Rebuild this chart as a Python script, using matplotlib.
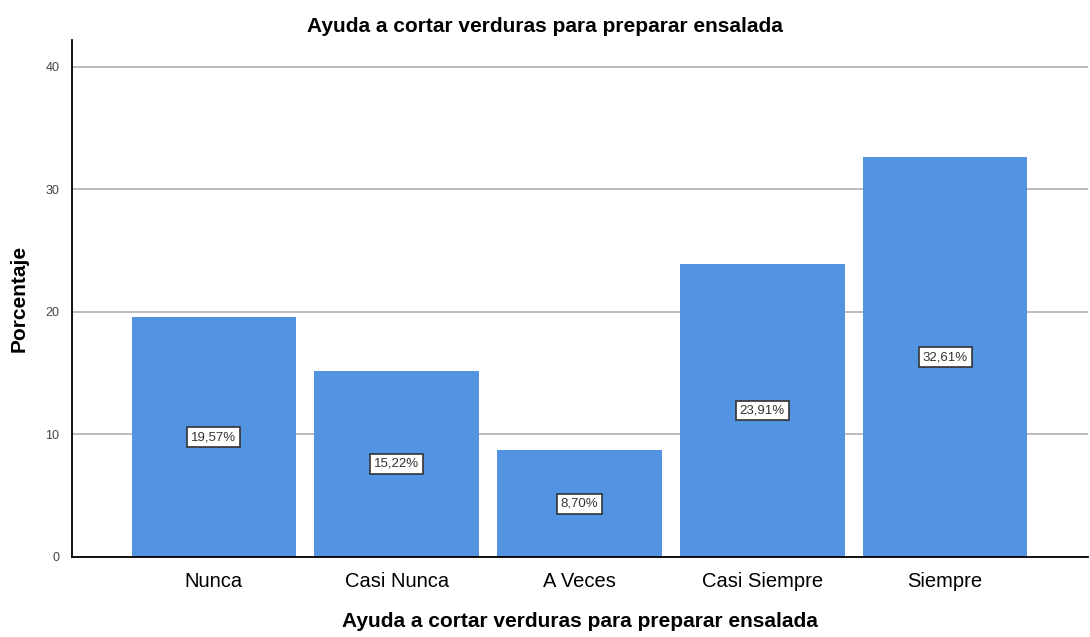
import numpy as np
import matplotlib.pyplot as plt

plt.rcParams['font.family'] = ['Liberation Sans', 'DejaVu Sans']

categorias = ['Nunca', 'Casi Nunca', 'A Veces', 'Casi Siempre', 'Siempre']
porcentajes = [19.57, 15.22, 8.70, 23.91, 32.61]
etiquetas = ['19,57%', '15,22%', '8,70%', '23,91%', '32,61%']
yticks = [0, 10, 20, 30, 40]

fig = plt.figure(figsize=(10.9, 6.37), dpi=100)
ax = fig.add_axes([0.066, 0.1256, 0.932, 0.8116])

x = np.arange(len(categorias))
ax.bar(x, porcentajes, width=0.9, color='#5294E2', zorder=2)

for xi, v, lab in zip(x, porcentajes, etiquetas):
    ax.text(xi, v / 2, lab, ha='center', va='center', fontsize=9.5, color='#333333', zorder=3,
            bbox=dict(boxstyle='square,pad=0.3', fc='white', ec='#333333', lw=1.2))

ax.set_xlim(-0.776, 4.78)
ax.set_ylim(0, 42.2)
ax.set_yticks(yticks)
ax.set_xticks(x)
ax.set_xticklabels(categorias, fontsize=14.5)
ax.tick_params(axis='y', length=0, labelsize=9, labelcolor='#444444', pad=9)
ax.tick_params(axis='x', length=0, pad=11)
ax.yaxis.grid(True, color='#b0b0b0', lw=1.2, zorder=1)
ax.set_axisbelow(True)
for s in ['top', 'right']:
    ax.spines[s].set_visible(False)
ax.spines['left'].set_linewidth(1.3)
ax.spines['bottom'].set_linewidth(1.3)

ax.set_ylabel('Porcentaje', fontsize=15, fontweight='bold', labelpad=12)
ax.set_xlabel('Ayuda a cortar verduras para preparar ensalada', fontsize=15, fontweight='bold', labelpad=15)
fig.text(0.5, 0.958, 'Ayuda a cortar verduras para preparar ensalada', fontsize=15, fontweight='bold',
         ha='center', va='center')

plt.savefig('out.png', dpi=100)
